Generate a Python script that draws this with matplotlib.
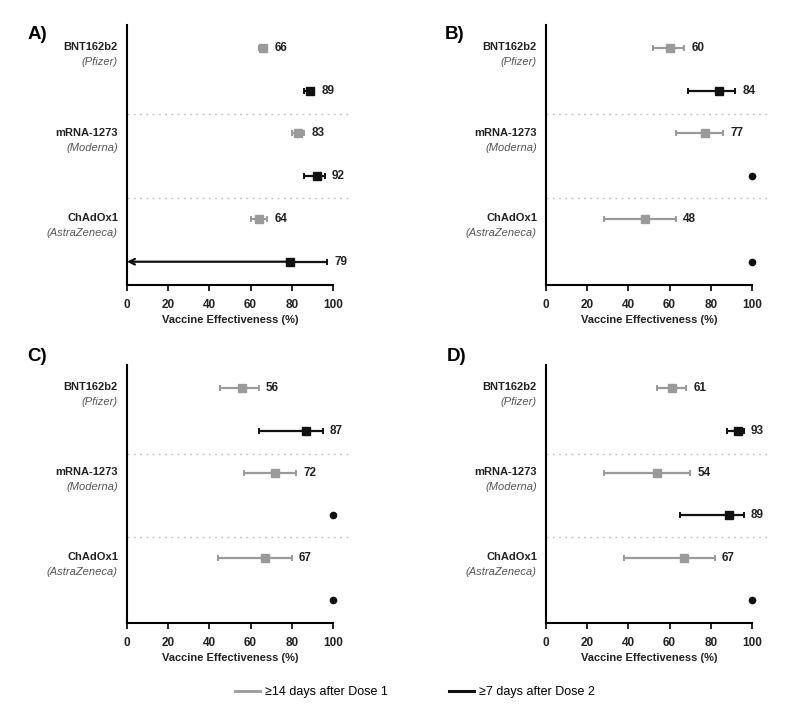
import numpy as np
import matplotlib
matplotlib.use("Agg")
import matplotlib.pyplot as plt
from matplotlib.lines import Line2D

plt.rcParams['font.family'] = ['Liberation Sans', 'DejaVu Sans']

# vaccines, top to bottom
vaccines = ["BNT162b2", "mRNA-1273", "ChAdOx1"]
makers = ["(Pfizer)", "(Moderna)", "(AstraZeneca)"]
panels = ["A)", "B)", "C)", "D)"]

# dose 1 (>=14 days) point estimate and CI, per panel, per vaccine
d1_val = [[66, 83, 64], [60, 77, 48], [56, 72, 67], [61, 54, 67]]
d1_lo = [[64, 80, 60], [52, 63, 28], [45, 57, 44], [54, 28, 38]]
d1_hi = [[68, 86, 68], [67, 86, 63], [64, 82, 80], [68, 70, 82]]

# dose 2 (>=7 days); nan = no CI reported (shown as a dot at 100)
d2_val = [[89, 92, 79], [84, 100, 100], [87, 100, 100], [93, 89, 100]]
d2_lo = [[86, 86, -1], [69, np.nan, np.nan], [64, np.nan, np.nan], [88, 65, np.nan]]
d2_hi = [[91, 96, 97], [92, np.nan, np.nan], [95, np.nan, np.nan], [96, 96, np.nan]]

gray = "#9a9a9a"
black = "#111111"

fig = plt.figure(figsize=(7.98, 7.12), dpi=100)

# axes boxes (left, bottom, width, height) in figure fraction
boxes = [
    [0.159, 0.600, 0.279, 0.365],
    [0.684, 0.600, 0.279, 0.365],
    [0.159, 0.125, 0.279, 0.362],
    [0.684, 0.125, 0.279, 0.362],
]
letter_pos = [(0.034, 0.951), (0.557, 0.951), (0.034, 0.499), (0.560, 0.499)]

for p in range(4):
    ax = fig.add_axes(boxes[p])
    ax.set_xlim(0, 108)
    ax.set_ylim(0.46, 6.54)

    for i in range(3):
        y1 = 6 - 2 * i
        y2 = y1 - 1
        # dose 1
        v, lo, hi = d1_val[p][i], d1_lo[p][i], d1_hi[p][i]
        ax.errorbar([v], [y1], xerr=[[v - lo], [hi - v]], fmt="s", color=gray,
                    ms=5.5, lw=1.6, capsize=2.5, capthick=1.4)
        ax.text(hi + 3.5, y1, str(v), va="center", ha="left", fontsize=8.5,
                fontweight="bold", color="#222222")
        # dose 2
        v, lo, hi = d2_val[p][i], d2_lo[p][i], d2_hi[p][i]
        if np.isnan(lo):
            ax.plot([v], [y2], "o", color=black, ms=4.5)
        elif lo < 0:
            ax.errorbar([v], [y2], xerr=[[0], [hi - v]], fmt="s", color=black,
                        ms=5.5, lw=1.6, capsize=2.5, capthick=1.4)
            ax.annotate("", xy=(0, y2), xytext=(v, y2),
                        arrowprops=dict(arrowstyle="->", lw=1.6, color=black,
                                        shrinkA=0, shrinkB=0))
            ax.text(hi + 3.5, y2, str(v), va="center", ha="left", fontsize=8.5,
                    fontweight="bold", color="#222222")
        else:
            ax.errorbar([v], [y2], xerr=[[v - lo], [hi - v]], fmt="s", color=black,
                        ms=5.5, lw=1.6, capsize=2.5, capthick=1.4)
            ax.text(hi + 3.5, y2, str(v), va="center", ha="left", fontsize=8.5,
                    fontweight="bold", color="#222222")

        # vaccine names on the left
        ax.text(-0.04, y1 + 0.02, vaccines[i], transform=ax.get_yaxis_transform(),
                ha="right", va="center", fontsize=8, fontweight="bold", color="#222222")
        ax.text(-0.04, y1 - 0.33, makers[i], transform=ax.get_yaxis_transform(),
                ha="right", va="center", fontsize=8, style="italic", color="#555555")

    # dotted separators
    for ys in [4.45, 2.5]:
        ax.axhline(ys, color="#c4c4c4", lw=1, ls=(0, (1.5, 3)))

    ax.spines["top"].set_visible(False)
    ax.spines["right"].set_visible(False)
    ax.spines["left"].set_linewidth(1.5)
    ax.spines["bottom"].set_linewidth(1.5)
    ax.spines["bottom"].set_bounds(0, 100)
    ax.set_yticks([])
    ax.set_xticks([0, 20, 40, 60, 80, 100])
    ax.tick_params(axis="x", length=4, width=1.2, labelsize=8.5, pad=6)
    for t in ax.get_xticklabels():
        t.set_fontweight("bold")
        t.set_color("#222222")
    ax.set_xlabel("Vaccine Effectiveness (%)", fontsize=8, fontweight="bold",
                  color="#222222")
    ax.xaxis.set_label_coords(50 / 108, -0.115)

    fig.text(letter_pos[p][0], letter_pos[p][1], panels[p], fontsize=13.5,
             fontweight="bold", ha="left", va="center")

# legend at the bottom
handles = [Line2D([], [], color=gray, lw=2), Line2D([], [], color=black, lw=2.2)]
fig.legend(handles, ["≥14 days after Dose 1", "≥7 days after Dose 2"],
           loc="center", bbox_to_anchor=(0.52, 0.028), ncol=2, frameon=False,
           fontsize=9, handlelength=2.0, columnspacing=4.9, handletextpad=0.4)

fig.savefig("out.png", dpi=100)
